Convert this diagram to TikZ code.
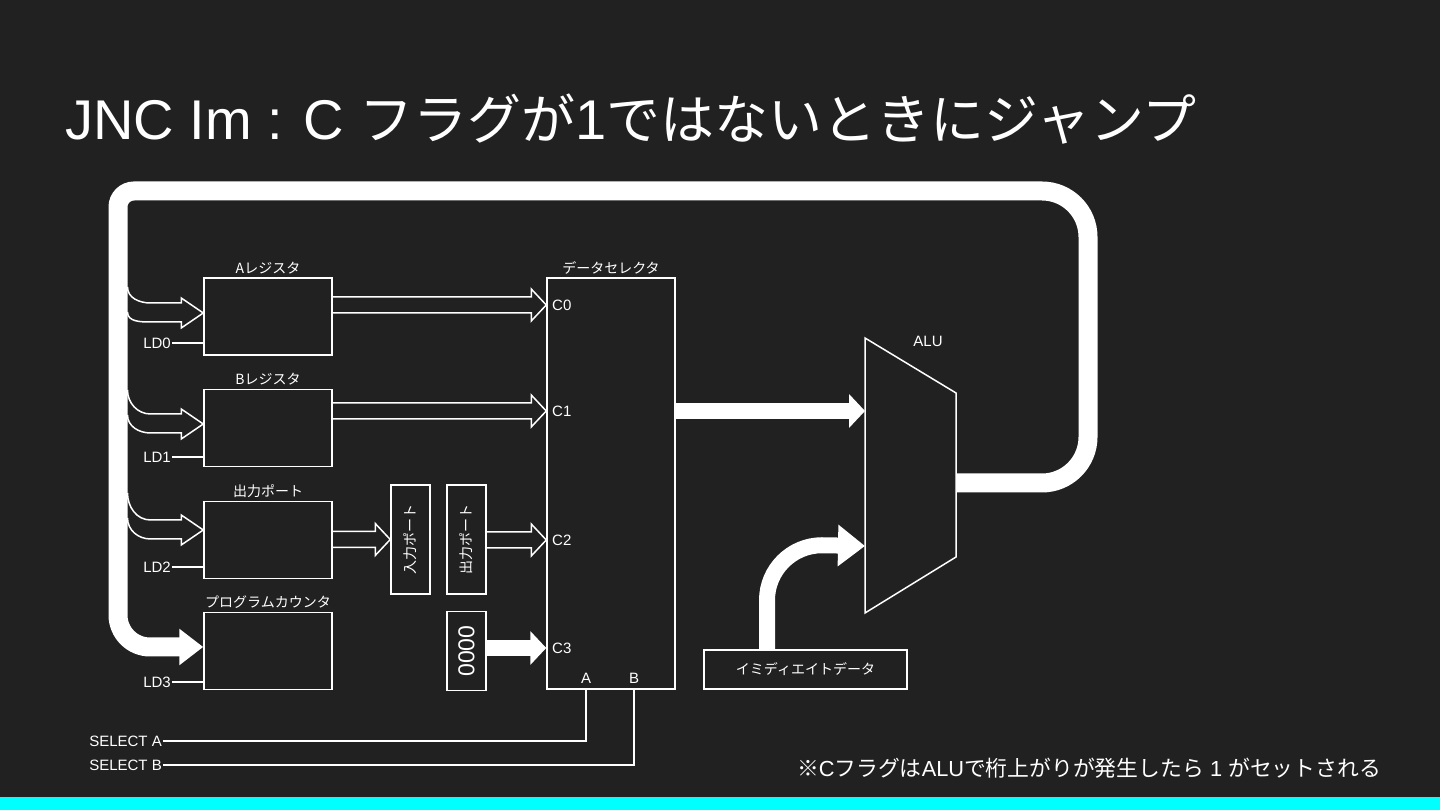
\documentclass[tikz,border=0pt]{standalone}
\usepackage{fontspec}
\setmainfont{Liberation Sans}
\newfontfamily\jp{Noto Sans CJK JP}
\usetikzlibrary{arrows.meta,positioning,calc}
\definecolor{slidebg}{HTML}{212121}
\definecolor{barcyan}{HTML}{00FFFF}

% outline arrow, straight, from #1 to the tip #2
\newcommand\hollowto[2]{%
  \draw[hollow] let \p1=(#1), \p2=(#2) in
    (\x1,\y2+8pt) -- (\x2-15pt,\y2+8pt) -- (\x2-15pt,\y2+16pt) -- (\x2,\y2)
    -- (\x2-15pt,\y2-16pt) -- (\x2-15pt,\y2-8pt) -- (\x1,\y2-8pt);}
% outline arrow bending off the bus, tip #1, rise of upper curve #2
\newcommand\busto[2]{%
  \draw[hollow] let \p1=(#1), \p2=(busin) in
    (\x2,\y1+#2) to[out=-90,in=180] (\x2+23pt,\y1+10pt)
    -- (\x1-22pt,\y1+10pt) -- (\x1-22pt,\y1+15pt) -- (\x1,\y1)
    -- (\x1-22pt,\y1-15pt) -- (\x1-22pt,\y1-9pt) -- (\x2+23pt,\y1-9pt)
    to[out=180,in=-90] (\x2,\y1+#2-25pt);}

\begin{document}
\begin{tikzpicture}[x=1pt, y=1pt,
    font=\fontsize{15}{17}\selectfont,
    every node/.style={text=white},
    box/.style={draw=white, line width=1.5pt, inner sep=0pt},
    reg/.style={box, minimum width=128pt, minimum height=77pt},
    port/.style={box, minimum width=39pt, minimum height=109pt},
    lbl/.style={font=\fontsize{14}{16}\selectfont\jp, inner sep=1pt},
    sig/.style={inner sep=1pt},
    wire/.style={white, line width=1.5pt},
    hollow/.style={white, line width=1.5pt, line join=miter},
    fat/.style={white, line width=16pt, -{Triangle[length=16pt,width=33pt]}},
    bus/.style={white, line width=19pt, -{Triangle[length=24pt,width=35pt]}}
  ]
  \fill[slidebg] (0,0) rectangle (1440,810);
  \fill[barcyan] (0,0) rectangle (1440,13);
  \useasboundingbox (0,0) rectangle (1440,810);
  \node[anchor=base west, inner sep=0pt, font=\fontsize{56}{60}\selectfont] (title)
    at (65,670) {JNC Im : C {\jp\fontsize{54}{60}\selectfont フラグが}1{\jp\fontsize{54}{60}\selectfont ではないときにジャンプ}};
  %---- REGISTERS ----
  \node[reg] (areg) at (268,493.5) {};
  \node[lbl, above=2pt of areg] (areg-l) {Aレジスタ};
  \node[reg] (breg) at (268,382) {};
  \node[lbl, above=2pt of breg] (breg-l) {Bレジスタ};
  \node[reg] (oreg) at (268,270) {};
  \node[lbl, above=2pt of oreg] (oreg-l) {出力ポート};
  \node[reg] (pc) at (268,159) {};
  \node[lbl, above=2pt of pc] (pc-l) {プログラムカウンタ};
  \node[sig, anchor=east] (ld0) at (172,467) {LD0};
  \node[sig, anchor=east] (ld1) at (172,353) {LD1};
  \node[sig, anchor=east] (ld2) at (172,243) {LD2};
  \node[sig, anchor=east] (ld3) at (172,128) {LD3};
  \draw[wire] (ld0) -- (ld0 -| areg.west);
  \draw[wire] (ld1) -- (ld1 -| breg.west);
  \draw[wire] (ld2) -- (ld2 -| oreg.west);
  \draw[wire] (ld3) -- (ld3 -| pc.west);
  %---- PORTS ----
  \node[port] (inport) at (410.5,270.5) {};
  \node[lbl, rotate=90] (inport-t) at (inport) {入力ポート};
  \node[port] (outport) at (466.5,270.5) {};
  \node[lbl, rotate=90] (outport-t) at (outport) {出力ポート};
  \node[box, minimum width=39pt, minimum height=79pt] (zero) at (466.5,159) {};
  \node[rotate=90, font=\fontsize{23}{25}\selectfont] (zero-t) at (zero) {0000};
  %---- DATA SELECTOR ----
  \node[box, minimum width=128pt, minimum height=411pt] (sel) at (611,326.5) {};
  \node[lbl, above=2pt of sel] (sel-l) {データセレクタ};
  \node[sig, anchor=west] (c0) at (551,505) {C0};
  \node[sig, anchor=west] (c1) at (551,399) {C1};
  \node[sig, anchor=west] (c2) at (551,270) {C2};
  \node[sig, anchor=west] (c3) at (551,162) {C3};
  \node[sig] (pina) at (586,132) {A};
  \node[sig] (pinb) at (634,132) {B};
  \node[sig, anchor=east] (sela) at (163,69) {SELECT A};
  \node[sig, anchor=east] (selb) at (163,45) {SELECT B};
  \draw[wire] (sela) -| (pina |- sel.south);
  \draw[wire] (selb) -| (pinb |- sel.south);
  %---- ALU ----
  \coordinate (alu-nw) at (865,472);
  \coordinate (alu-ne) at (956,417);
  \coordinate (alu-se) at (956,253);
  \coordinate (alu-sw) at (865,197);
  \coordinate (alu-in) at (865,334.5);
  \coordinate (alu-out) at (956,335);
  \draw[wire, line join=miter] (alu-nw) -- (alu-ne) -- (alu-se) -- (alu-sw) -- cycle;
  \node[sig] (alu-l) at (928,469) {ALU};
  \node[box, lbl, inner sep=0pt, minimum width=203pt, minimum height=39pt] (imm)
    at (805.5,140.5) {イミディエイトデータ};
  %---- CONNECTIONS ----
  \hollowto{areg.east}{sel.west |- c0}
  \hollowto{breg.east}{sel.west |- c1}
  \hollowto{oreg.east}{inport.west}
  \hollowto{outport.east}{sel.west |- c2}
  \draw[fat] (zero.east |- c3) -- (sel.west |- c3);
  \draw[fat] (sel.east |- c1) -- (alu-in |- c1);
  \draw[white, line width=16pt, -{Triangle[length=27pt,width=40pt]}]
    ([xshift=-38.5pt]imm.north) -- ++(0,49) arc[start angle=180, end angle=90, radius=55]
    -- (alu-in |- 0,264);
  %---- BUS ----
  \coordinate (busin) at (127.5,0);
  \draw[bus] (alu-out |- 0,327) [rounded corners=46pt] -- (1088,327) -- (1088,619)
    [rounded corners=16pt] -- (118,619) [rounded corners=32pt] -- (118,163)
    -- ([yshift=4pt]pc.west);
  \busto{[yshift=3.5pt]areg.west}{26pt}
  \busto{[yshift=4pt]breg.west}{34pt}
  \busto{[yshift=10pt]oreg.west}{37pt}
  %---- NOTE ----
  \node[anchor=base east, inner sep=0pt, font=\fontsize{21.8}{26}\selectfont] (note)
    at (1381,33) {{\jp ※}C{\jp フラグは}ALU{\jp で桁上がりが発生したら} 1 {\jp がセットされる}};
\end{tikzpicture}
\end{document}
